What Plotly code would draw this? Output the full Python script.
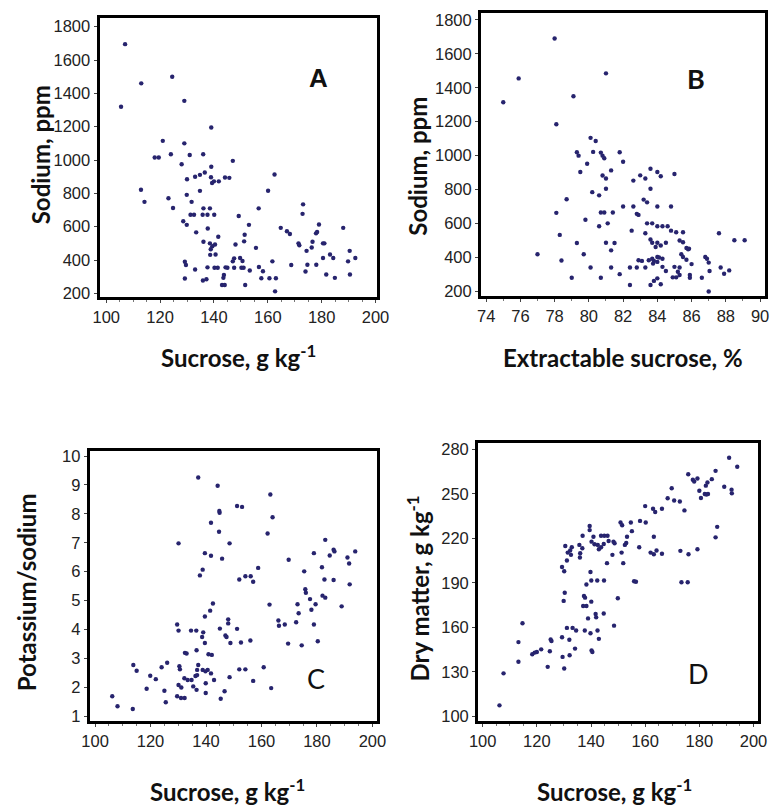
import plotly.graph_objects as go

# ---------------- Data ----------------
# Panel A: Sucrose (g/kg) vs Sodium (ppm)
a_sucrose = [107, 113, 124.5, 105.5, 129, 139, 121, 118, 119.5, 124, 129, 131, 136, 128, 139, 147,
             130, 133, 134.8, 136.6, 138.9, 139.3, 140, 141.8, 144.1, 145.7, 112.9, 114.2, 123.1, 124.8,
             129.9, 131.7, 134.8, 128.6, 129.9, 133.4, 131.3, 132.6, 135.8, 137.6, 136.1, 138.5, 140.1,
             137.7, 136.1, 138.5, 141.6, 139.4, 138.8, 140.4, 138.6, 140.6, 137.6, 135.9, 129.2, 129.6,
             129.2, 140.2, 141.4, 144.3, 145, 143.7, 143.5, 143, 144, 147, 147.5, 148, 147.5, 149.7,
             150.2, 151, 149.2, 150.6, 151.2, 151.4, 153, 153.3, 151.6, 155.6, 156.6, 156.7, 158.2,
             157.6, 160.1, 160.6, 163, 161.7, 162.7, 162.5, 164.8, 167.1, 168.2, 168.7, 171.4, 172.9,
             173.1, 174, 174.4, 174.7, 176.3, 176.6, 177.9, 178, 179, 180.5, 181, 180.5, 181.7, 183.1,
             184.3, 184.9, 188, 189.8, 190.4, 190.5, 192.5, 133, 137.2, 171.7, 178.3]
a_sodium = [1695, 1460, 1500, 1320, 1355, 1195, 1115, 1015, 1015, 1035, 1100, 1030, 1035, 975, 960, 995,
            885, 900, 911, 925, 897, 862, 872, 872, 895, 893, 822, 749, 771, 712,
            791, 749, 815, 633, 611, 566, 672, 672, 672, 672, 710, 710, 672,
            589, 510, 500, 540, 483, 465, 493, 431, 433, 356, 277, 390, 370,
            289, 354, 354, 356, 354, 310, 293, 250, 250, 392, 410, 493, 354, 412,
            354, 354, 664, 394, 512, 552, 611, 337, 250, 473, 710, 358, 333,
            291, 816, 291, 291, 392, 212, 913, 593, 573, 556, 370, 500, 677,
            734, 331, 455, 372, 475, 510, 560, 372, 613, 500, 500, 412, 313, 433,
            412, 293, 593, 392, 455, 313, 412, 343, 285, 488, 568]

# Panel B: Extractable sucrose (%) vs Sodium (ppm)
b_extract = [78, 75.9, 75, 81, 79.1, 78.1, 80.1, 80.4, 79.3, 79.4, 80.25, 80.7, 80.8, 80.9, 81.8, 82,
             79.9, 79.5, 80.8, 81, 81.3, 81, 80.2, 80.6, 82.6, 83, 83.3, 83.6, 84, 84.2, 85, 83.6,
             78.7, 80.7, 80.9, 81.4, 82, 82.6, 83.2, 83.4, 84, 84.8, 78.1, 79.8, 80.6, 81.1, 82.8,
             82.9, 83.4, 83.7, 82.5, 83.3, 84, 84.3, 84.6, 84.8, 85.1, 85.3, 85.5, 85.5, 87.6, 88.5,
             89.1, 78.3, 79.3, 81, 81.3, 83.6, 83.7, 83.9, 84, 84.2, 84.5, 85.7, 85.8, 85.4, 85.5,
             85.85, 84, 83.7, 83.75, 84, 84.3, 84.3, 84.5, 83.5, 82.9, 83.1, 83.3, 82.8, 82.4, 85,
             85.2, 85.3, 85.1, 84.9, 85.3, 85.9, 85.9, 86, 86.8, 86.9, 87, 87.05, 86.6, 87, 87.7, 87.9,
             88.2, 77, 78.4, 79.7, 80.1, 79, 80.7, 81.3, 81.5, 81.8, 82.4, 83.8, 84, 83.6, 84.2, 85.7,
             83.8, 84.1]
b_sodium = [1690, 1455, 1315, 1485, 1350, 1185, 1105, 1086, 1020, 1000, 1022, 1018, 1000, 985, 1020, 964,
            952, 904, 883, 865, 913, 805, 785, 766, 853, 884, 865, 923, 904, 879, 892, 805,
            743, 665, 665, 665, 700, 700, 741, 725, 700, 700, 663, 622, 584, 601, 657,
            651, 601, 601, 558, 543, 584, 584, 584, 558, 549, 500, 490, 549, 543, 502,
            502, 533, 485, 487, 442, 506, 487, 462, 487, 471, 487, 456, 448, 419, 403,
            452, 403, 393, 364, 374, 345, 393, 320, 384, 384, 380, 341, 341, 341, 345,
            316, 341, 283, 283, 297, 297, 281, 361, 403, 393, 370, 320, 281, 200, 341, 304,
            324, 419, 382, 419, 341, 281, 281, 341, 485, 302, 238, 262, 277, 238, 242, 387,
            380, 400]

# Panel C: Sucrose (g/kg) vs Potassium/sodium
c_sucrose = [137.2, 144.2, 144.9, 141.8, 144.7, 148.5, 130.1, 139.6, 141.8, 145.8, 138.8, 137.8, 142.5,
             141.5, 139.6, 145, 148, 148, 129.6, 130.1, 134.6, 136.5, 139, 138.6, 139.6, 147, 147.4,
             148.8, 151.2, 152.6, 156, 132.4, 133, 136.6, 140.9, 142.1, 137.2, 136.8, 138.8, 139.8,
             140.6, 141.8, 130.4, 130.6, 132.2, 133.4, 134.8, 136.2, 136.8, 135.4, 136.6, 130.1,
             131.1, 129.6, 131, 132.3, 139.9, 139.9, 142.9, 145.3, 146.7, 148.5, 152, 154.2, 157,
             160.8, 163.5, 106.2, 108.1, 113.6, 113.8, 115, 118.6, 119.9, 121.9, 124, 126, 125,
             125.5, 152, 154.2, 156.1, 157, 158.8, 162.2, 163.2, 164, 151.2, 153, 162.9, 166.1,
             166.3, 168.4, 169.8, 169.6, 172.5, 173, 173.4, 174.5, 175.4, 175.8, 176, 177.5, 178,
             178.9, 178.9, 179.5, 180.3, 181.8, 182, 183, 182.7, 183, 184.6, 186, 186.3, 186,
             188.9, 191, 191.6, 191.8, 193.8, 144.8]
c_ratio = [9.26, 8.97, 8.04, 7.69, 7.38, 6.98, 6.98, 6.64, 6.55, 6.45, 6.07, 5.87, 4.9,
           4.65, 4.45, 4.03, 4.35, 4.21, 4.17, 3.96, 3.96, 3.96, 3.9, 3.74, 3.53, 3.79, 3.74,
           3.53, 4.02, 3.55, 3.62, 3.19, 3.17, 3.28, 3.14, 3.12, 2.77, 2.6, 2.6, 2.55,
           2.6, 2.48, 2.73, 2.62, 2.31, 2.25, 2.25, 2.39, 2.42, 2.03, 1.91, 2.08,
           1.99, 1.69, 1.63, 1.63, 2.14, 1.8, 2.25, 1.6, 1.86, 2.35, 2.62, 2.62, 2.22,
           2.69, 1.97, 1.69, 1.34, 1.25, 2.77, 2.57, 1.95, 2.4, 2.28, 2.69, 2.85, 1.88,
           1.48, 5.73, 5.84, 5.84, 5.65, 6.13, 7.32, 8.67, 7.88, 8.27, 8.24, 4.86, 4.31,
           4.13, 4.17, 6.41, 3.51, 4.25, 4.87, 4.56, 3.45, 6.01, 5.39, 5.27, 5.05, 4.68,
           6.64, 4.17, 4.87, 3.59, 6.15, 5.17, 5.1, 5.73, 7.1, 6.56, 6.76, 6.7, 5.71,
           4.8, 6.49, 6.28, 5.56, 6.7, 8.1]

# Panel D: Sucrose (g/kg) vs Dry matter (g/kg)
d_sucrose = [106.2, 107.7, 113.2, 113.2, 114.7, 118.3, 119.2, 120, 121.6, 124, 124.8, 125.1, 125.4,
             129.3, 129.5, 130.1, 132, 132.1, 131.1, 133.2, 134.5, 134.1, 137.7, 140.2, 140.5, 139.8,
             142.4, 142.9, 144.7, 138.9, 141.9, 141.7, 148.5, 137.4, 137.8, 137.1, 138.3, 140.1,
             129.9, 130.3, 149.9, 138.3, 140.1, 139.8, 142.3, 144.8, 155.9, 156.6, 173.4, 175.7,
             129.3, 130.1, 130.5, 132.3, 131.4, 132.9, 132.6, 131.1, 135.7, 136.8, 136, 136.9,
             139.5, 139.5, 140.2, 141.3, 142.5, 142.9, 143.7, 140.9, 143.7, 144.9, 146.1, 144.7,
             146.5, 148.3, 148.7, 147.9, 145.9, 151.9, 151.3, 152.5, 153, 150.9, 151.5, 153.3,
             154.7, 155.1, 157.8, 158.1, 160.2, 160, 162, 163.2, 163.2, 162.9, 163.7, 164.2, 166.2,
             166.2, 168.3, 169.8, 170.7, 172.8, 173, 174.5, 176, 175.9, 177.6, 178.1, 179.3,
             179.3, 180, 180.6, 182, 182.6, 183.2, 182.4, 183, 184.6, 186, 186, 186.6, 189.2,
             191, 191.9, 192, 194, 135.9]
d_dry = [107.3, 128.9, 136.7, 150, 162.7, 141.8, 142.9, 143.3, 145.1, 133.3, 143.8, 151.8, 150.7,
         153.3, 140, 132.2, 151.6, 141.1, 159.6, 159.6, 157.8, 145.6, 157.8, 144.4, 143.3, 156,
         157.8, 152.2, 169.3, 166, 166.7, 169, 161.1, 181.1, 180, 174.4, 174.4, 177.3,
         177.8, 183.3, 179.6, 188.9, 191.6, 197.3, 191.6, 191.6, 191.1, 190.7, 190.4, 190.4,
         200.7, 197.8, 214.9, 211.8, 210.4, 214, 208.9, 205.1, 215.6, 213.3, 210, 221.8,
         228.4, 225.6, 217.8, 216, 215.6, 212.7, 214, 221.1, 221.8, 221.8, 221.8, 216.2,
         218.2, 217.8, 216.7, 208.9, 203.3, 203.3, 210.4, 215.6, 216.9, 230.7, 228.9, 221.1,
         230.7, 224.9, 214, 231.8, 230.7, 241.8, 210.4, 209.3, 221.1, 240, 237.8, 211.8, 209.6,
         240, 247.1, 253.8, 245.6, 244.9, 211.6, 238.9, 209.3, 263.3, 259.6, 258.4, 260.4,
         212.7, 252.2, 247.3, 250, 249.6, 250, 255.6, 257.8, 260, 265.6, 220.7, 227.8, 254.9,
         274.4, 252.9, 250.4, 268.4, 207.1]

a_xticks = [100, 120, 140, 160, 180, 200]
a_yticks = [200, 400, 600, 800, 1000, 1200, 1400, 1600, 1800]
b_xticks = [74, 76, 78, 80, 82, 84, 86, 88, 90]
c_yticks = [1, 2, 3, 4, 5, 6, 7, 8, 9, 10]
d_yticks = [100, 130, 160, 190, 220, 250, 280]

# ---------------- Layout helpers ----------------
W, H = 784, 811
def xd(p0, p1):
    return [p0 / W, p1 / W]
def yd(p0, p1):  # p0 top px, p1 bottom px
    return [1 - p1 / H, 1 - p0 / H]

DOT = dict(size=4.4, color="#27246e")
TICKFONT = dict(family="Liberation Sans, Arial", size=16.5, color="#222222")
TITLEFONT = dict(family="Lato, Open Sans, sans-serif", size=24, color="#111111")

def axis(domain, rng, tickvals, anchor, dtick_minor=None):
    d = dict(domain=domain, range=rng, tickvals=tickvals, anchor=anchor,
             showline=True, linewidth=3, linecolor="black", mirror=True,
             showgrid=False, zeroline=False, ticks="outside", ticklen=3,
             tickcolor="#444", tickwidth=1, tickfont=TICKFONT)
    if dtick_minor:
        d["minor"] = dict(ticks="outside", ticklen=2, dtick=dtick_minor, tickcolor="#777", showgrid=False)
    return d

fig = go.Figure()
fig.add_trace(go.Scatter(x=a_sucrose, y=a_sodium, mode="markers", marker=DOT, xaxis="x", yaxis="y"))
fig.add_trace(go.Scatter(x=b_extract, y=b_sodium, mode="markers", marker=DOT, xaxis="x2", yaxis="y2"))
fig.add_trace(go.Scatter(x=c_sucrose, y=c_ratio, mode="markers", marker=DOT, xaxis="x3", yaxis="y3"))
fig.add_trace(go.Scatter(x=d_sucrose, y=d_dry, mode="markers", marker=DOT, xaxis="x4", yaxis="y4"))

fig.update_layout(
    width=W, height=H, margin=dict(l=0, r=0, t=0, b=0),
    paper_bgcolor="white", plot_bgcolor="white", showlegend=False,
    xaxis=axis(xd(93, 378), [97.5, 200.5], a_xticks, "y", 5),
    yaxis=axis(yd(13, 296), [176, 1853], a_yticks, "x"),
    xaxis2=axis(xd(485, 777), [73.7, 90.3], b_xticks, "y2", 1),
    yaxis2=axis(yd(8, 295), [171, 1841], a_yticks, "x2"),
    xaxis3=axis(xd(83, 378), [98.1, 201.6], a_xticks, "y3", 5),
    yaxis3=axis(yd(452, 725), [0.83, 10.16], c_yticks, "x3"),
    xaxis4=axis(xd(482, 770), [98.3, 201.8], a_xticks, "y4", 5),
    yaxis4=axis(yd(443, 725), [96.7, 284.7], d_yticks, "x4"),
)

def ann(text, x, y, size=24, angle=0, family=None, bold=True, yanchor="middle"):
    f = dict(TITLEFONT)
    f["size"] = size
    if family:
        f["family"] = family
    fig.add_annotation(text=("<b>%s</b>" % text) if bold else text, x=x / W, y=1 - y / H,
                       xref="paper", yref="paper", showarrow=False, textangle=angle,
                       font=f, xanchor="center", yanchor=yanchor, borderpad=0)

# axis titles
ann("Sodium, ppm", 32, 152, angle=-90)
ann("Sucrose, g kg<sup>-1</sup>", 236, 355)
ann("Sodium, ppm", 420, 163, angle=-90)
ann("Extractable sucrose, %", 631, 357)
ann("Potassium/sodium", 18, 595, angle=-90)
ann("Sucrose, g kg<sup>-1</sup>", 225, 795)
ann("Dry matter, g kg<sup>-1</sup>", 420, 591, angle=-90)
ann("Sucrose, g kg<sup>-1</sup>", 622, 795)

# panel letters
ann("A", 318, 74, size=26, family="Liberation Sans, Arial")
ann("B", 706, 74, size=27)
ann("C", 315, 682, size=27, bold=False)
ann("D", 708, 677, size=27, bold=False)

fig.write_html("out.html", config={"displayModeBar": False},
               post_script="document.body.style.margin='0px';document.body.style.overflow='hidden';")
